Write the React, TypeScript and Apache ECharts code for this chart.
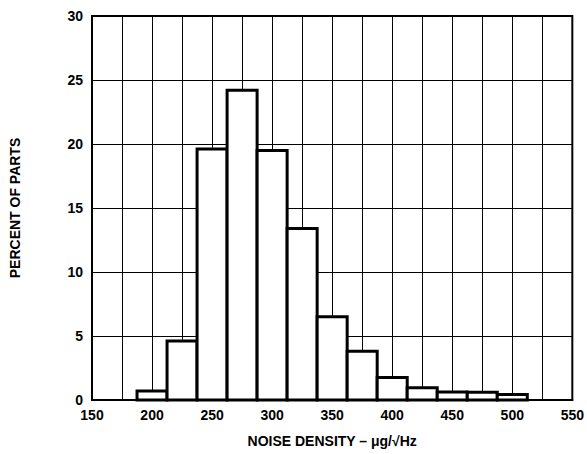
import React, { useEffect, useRef } from "react";
import * as echarts from "echarts";

const binCenters = [200, 225, 250, 275, 300, 325, 350, 375, 400, 425, 450, 475, 500];
const percentOfParts = [0.7, 4.6, 19.6, 24.2, 19.5, 13.4, 6.5, 3.8, 1.75, 0.95, 0.62, 0.6, 0.43];
const binWidth = 25;
const xTitle = "NOISE DENSITY – μg/√Hz";
const yTitle = "PERCENT OF PARTS";

const FONT = "'Liberation Sans', Arial, Helvetica, sans-serif";

export default function App() {
  const ref = useRef<HTMLDivElement>(null);
  useEffect(() => {
    if (!ref.current) return;
    const chart = echarts.init(ref.current, undefined, { renderer: "svg" });
    const data = binCenters.map((c, i) => [c, percentOfParts[i]]);
    chart.setOption({
      animation: false,
      backgroundColor: "#fff",
      grid: {
        left: 91,
        top: 16,
        right: 14,
        bottom: 54,
        show: true,
        borderColor: "#000",
        borderWidth: 2,
        backgroundColor: "transparent",
      },
      xAxis: {
        type: "value",
        min: 150,
        max: 550,
        interval: 25,
        name: xTitle,
        nameLocation: "middle",
        nameGap: 34,
        nameTextStyle: { fontFamily: FONT, fontWeight: "bold", fontSize: 14, color: "#000" },
        axisLine: { show: true, lineStyle: { color: "#000", width: 2 } },
        axisTick: { show: false },
        axisLabel: {
          margin: 8,
          fontFamily: FONT,
          fontWeight: "bold",
          fontSize: 14,
          color: "#000",
          formatter: (v: number) => (v % 50 === 0 ? String(v) : ""),
        },
        splitLine: { show: true, lineStyle: { color: "#000", width: 1 } },
      },
      yAxis: {
        type: "value",
        min: 0,
        max: 30,
        interval: 5,
        name: yTitle,
        nameLocation: "middle",
        nameRotate: 90,
        nameGap: 70,
        nameTextStyle: { fontFamily: FONT, fontWeight: "bold", fontSize: 14, color: "#000" },
        axisLine: { show: true, lineStyle: { color: "#000", width: 2 } },
        axisTick: { show: false },
        axisLabel: { margin: 9, fontFamily: FONT, fontWeight: "bold", fontSize: 14, color: "#000" },
        splitLine: { show: true, lineStyle: { color: "#000", width: 1 } },
      },
      series: [
        {
          type: "custom",
          data,
          renderItem: (params: any, api: any) => {
            const c = api.value(0);
            const v = api.value(1);
            const p0 = api.coord([c - binWidth / 2, v]);
            const p1 = api.coord([c + binWidth / 2, 0]);
            return {
              type: "rect",
              shape: { x: p0[0], y: p0[1], width: p1[0] - p0[0], height: p1[1] - p0[1] },
              style: { fill: "#fff", stroke: "#000", lineWidth: 3 },
            };
          },
        },
      ],
    });
    return () => chart.dispose();
  }, []);
  return (
    <div
      ref={ref}
      style={{ position: "fixed", left: 0, top: 0, width: 587, height: 454, background: "#fff" }}
    />
  );
}
